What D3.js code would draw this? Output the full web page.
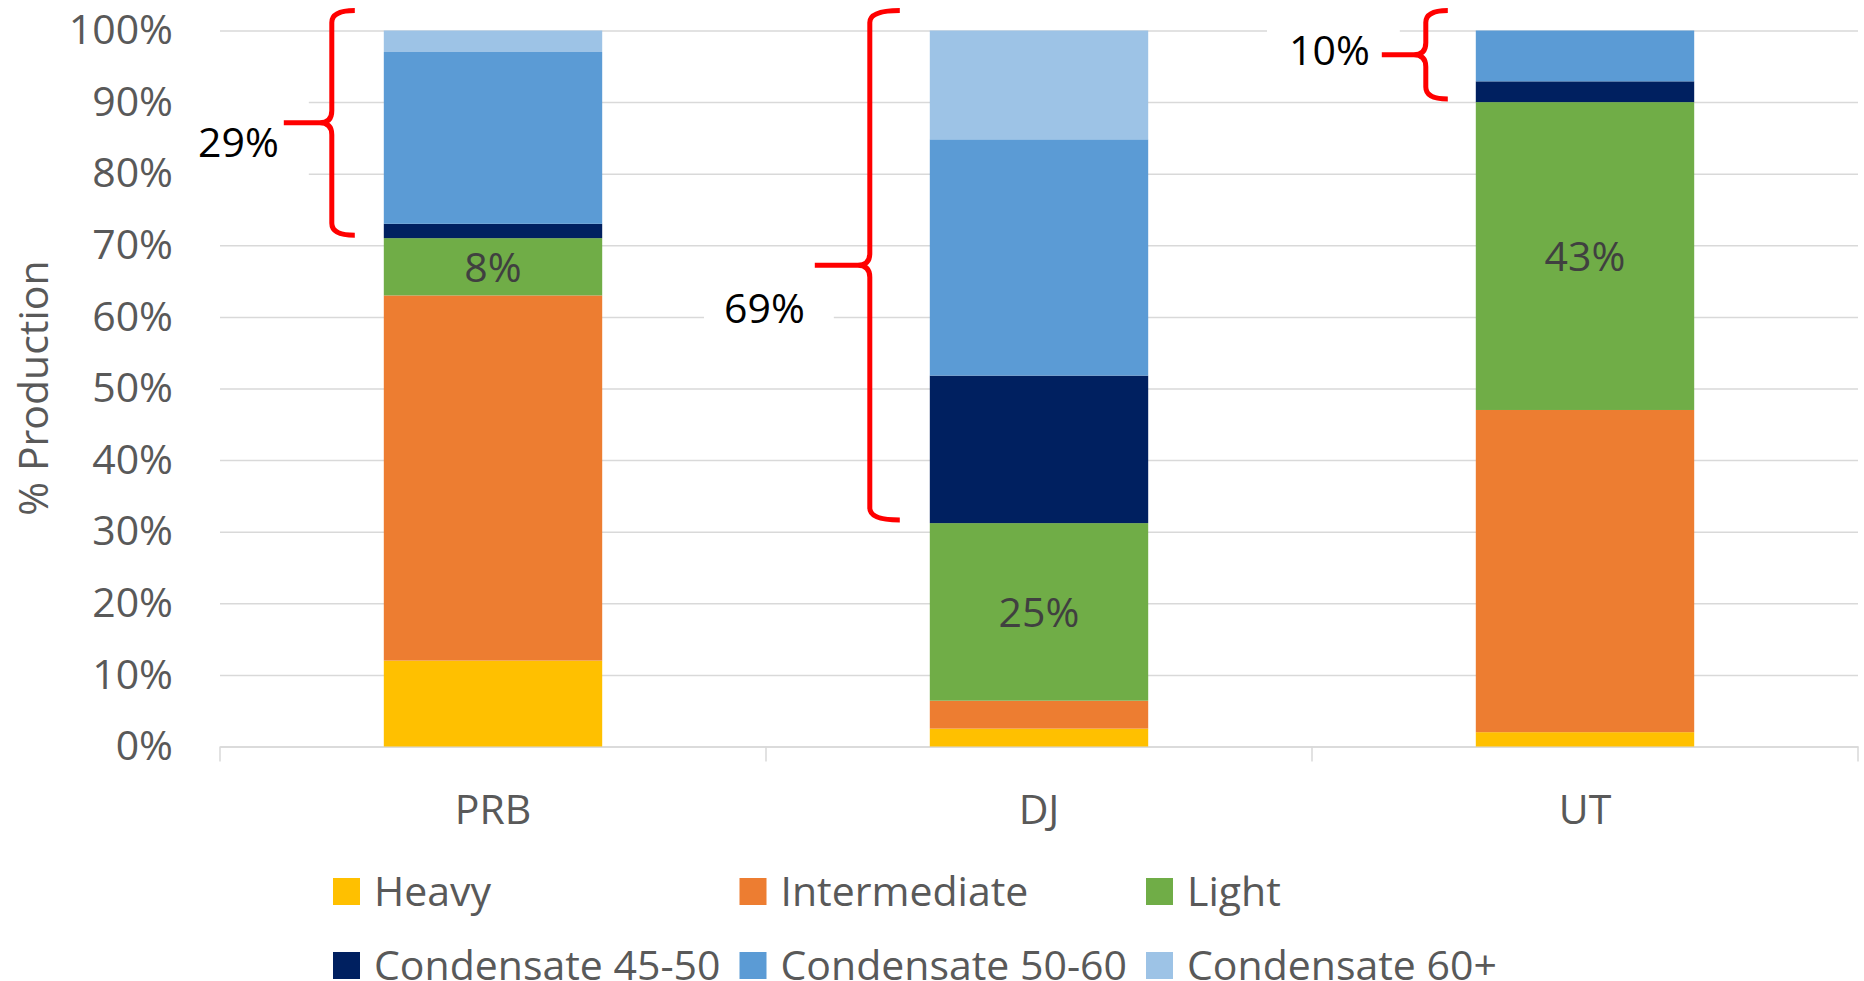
<!DOCTYPE html>
<html>
<head>
<meta charset="utf-8">
<script src="https://cdn.jsdelivr.net/npm/d3@7"></script>
<style>
  body { margin: 0; background: #fff; }
  svg text { font-family: "Open Sans", "Liberation Sans", Arial, sans-serif; }
</style>
</head>
<body>
<svg id="chart"></svg>
<script>
// ── Data ─────────────────────────────────────────────────────────────────────
const categories = ["PRB", "DJ", "UT"];
const seriesNames = ["Heavy", "Intermediate", "Light",
                     "Condensate 45-50", "Condensate 50-60", "Condensate 60+"];
const heavy        = [0.12, 0.025, 0.02];
const intermediate = [0.51, 0.039, 0.45];
const light        = [0.08, 0.248, 0.43];
const cond4550     = [0.02, 0.206, 0.029];
const cond5060     = [0.24, 0.330, 0.071];
const cond60plus   = [0.03, 0.152, 0.0];
const yTicks = [0, 0.1, 0.2, 0.3, 0.4, 0.5, 0.6, 0.7, 0.8, 0.9, 1.0];

const COLORS = ["#FFC000", "#ED7D31", "#70AD47", "#002060", "#5B9BD5", "#9DC3E6"];

// brace annotation layout (px), one per category
const braceLayout = [
  { gap: 52, tip: 48, hook: 23, labelDx: 5,  labelDy: 19, pad: [10, 30, 30, 26] },
  { gap: 60, tip: 55, hook: 30, labelDx: 10, labelDy: 43, pad: [20, 10, 29, 10] },
  { gap: 50, tip: 44, hook: 22, labelDx: 12, labelDy: -5, pad: [22, 10, 30, 10] }
];

// ── Setup ────────────────────────────────────────────────────────────────────
const VW = 1864, VH = 981;
const M  = { top: 30.5, right: 6, bottom: 234.5, left: 220 };
const W  = VW - M.left - M.right;
const H  = VH - M.top - M.bottom;
const FS = 41;

const svg = d3.select("#chart").attr("width", VW).attr("height", VH)
  .attr("viewBox", `0 0 ${VW} ${VH}`);
const g = svg.append("g").attr("transform", `translate(${M.left},${M.top})`);

const x = d3.scaleBand().domain(categories).range([0, W])
  .paddingInner(0.6).paddingOuter(0.3);
const y = d3.scaleLinear().domain([0, 1]).range([H, 0]);

// gridlines + y labels
g.append("g")
  .call(d3.axisLeft(y).tickValues(yTicks).tickSize(-W).tickPadding(47)
    .tickFormat(d3.format(".0%")))
  .call(ax => ax.select(".domain").remove())
  .call(ax => ax.selectAll("line").attr("stroke", "#d9d9d9").attr("stroke-width", 1.5))
  .call(ax => ax.selectAll("text").attr("fill", "#595959")
    .attr("font-size", FS + "px").attr("font-family", null));

// x axis: labels at centers, ticks at category boundaries
g.append("g").attr("transform", `translate(0,${H})`)
  .call(d3.axisBottom(x).tickSize(0).tickPadding(48))
  .call(ax => ax.select(".domain").attr("stroke", "#d9d9d9").attr("stroke-width", 1.5))
  .call(ax => ax.selectAll("text").attr("fill", "#595959")
    .attr("font-size", FS + "px").attr("font-family", null));

const bounds = categories.map(c => x(c) - x.step() * x.paddingInner() / 2).concat([W]);
g.append("g").selectAll("line").data(bounds).join("line")
  .attr("x1", d => d).attr("x2", d => d)
  .attr("y1", H).attr("y2", H + 15)
  .attr("stroke", "#d9d9d9").attr("stroke-width", 1.5);

// ── Stacked bars ─────────────────────────────────────────────────────────────
const columns = [heavy, intermediate, light, cond4550, cond5060, cond60plus];
const table = categories.map((c, i) => {
  const row = { cat: c };
  seriesNames.forEach((s, k) => row[s] = columns[k][i]);
  return row;
});
const stacked = d3.stack().keys(seriesNames)(table);

g.append("g").selectAll("g").data(stacked).join("g")
  .attr("fill", (d, i) => COLORS[i])
  .selectAll("rect").data(d => d).join("rect")
  .attr("x", d => x(d.data.cat))
  .attr("width", x.bandwidth())
  .attr("y", d => y(d[1]))
  .attr("height", d => Math.max(0, y(d[0]) - y(d[1])));

// Light data labels
const lightLayer = stacked[2];
g.append("g").selectAll("text").data(lightLayer).join("text")
  .attr("x", d => x(d.data.cat) + x.bandwidth() / 2)
  .attr("y", d => y((d[0] + d[1]) / 2))
  .attr("dy", "0.36em")
  .attr("text-anchor", "middle")
  .attr("font-size", FS + "px")
  .attr("fill", "#404040")
  .text(d => d3.format(".0%")(d.data.Light));

// ── Condensate braces ────────────────────────────────────────────────────────
const annG = g.append("g");
const TOP = 1.028;
categories.forEach((c, i) => {
  const L = braceLayout[i];
  const condSum = cond4550[i] + cond5060[i] + cond60plus[i];
  const y0 = y(1 - condSum) - 3, y1 = y(TOP);
  const ym = (y0 + y1) / 2;
  const bx = x(c) - L.gap;
  const tx = bx - L.tip;

  const lx = tx - L.labelDx, ly = ym + L.labelDy;
  const box = annG.append("rect").attr("fill", "#fff");
  const lbl = annG.append("text")
    .attr("x", lx).attr("y", ly).attr("dy", "0.36em")
    .attr("text-anchor", "end")
    .attr("font-size", FS + "px")
    .attr("fill", "#000")
    .text(d3.format(".0%")(condSum));
  const bb = lbl.node().getBBox();
  box.attr("x", bb.x - L.pad[0]).attr("y", bb.y - L.pad[1])
    .attr("width", bb.width + L.pad[0] + L.pad[2])
    .attr("height", bb.height + L.pad[1] + L.pad[3]);

  const r = 12;
  const p = d3.path();
  p.moveTo(bx + L.hook, y1);
  p.quadraticCurveTo(bx, y1, bx, y1 + r);
  p.lineTo(bx, ym - r);
  p.quadraticCurveTo(bx, ym, bx - r, ym);
  p.lineTo(tx, ym);
  p.moveTo(bx - r, ym);
  p.quadraticCurveTo(bx, ym, bx, ym + r);
  p.lineTo(bx, y0 - r);
  p.quadraticCurveTo(bx, y0, bx + L.hook, y0);
  annG.append("path").attr("d", p.toString())
    .attr("fill", "none").attr("stroke", "#FF0000").attr("stroke-width", 5);
});

// ── Legend ───────────────────────────────────────────────────────────────────
const legG = svg.append("g").attr("transform", "translate(333,878)");
seriesNames.forEach((s, i) => {
  const row = legG.append("g")
    .attr("transform", `translate(${(i % 3) * 406.5},${Math.floor(i / 3) * 74})`);
  row.append("rect").attr("width", 27).attr("height", 27).attr("fill", COLORS[i]);
  row.append("text").attr("x", 41).attr("y", 27.5)
    .attr("font-size", FS + "px").attr("fill", "#595959").text(s);
});

// y-axis title
svg.append("text")
  .attr("transform", "translate(48,388) rotate(-90)")
  .attr("text-anchor", "middle")
  .attr("font-size", FS + "px")
  .attr("fill", "#595959")
  .text("% Production");
</script>
</body>
</html>
